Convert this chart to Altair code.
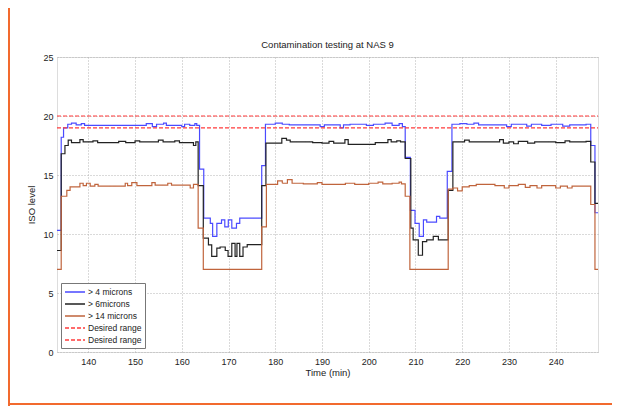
import altair as alt
import pandas as pd

# ---- data (change points of step curves) ----
t_start, t_end = 133.3, 249.05

blue_t = [133.3, 134.2, 134.7, 135.6, 136.4, 137.4, 138.5, 139.2, 152.4, 153.7, 154.6, 156.1, 156.7,
          160.0, 160.6, 161.7, 162.8, 163.2,
          163.8, 164.7, 166.1, 166.6, 167.5, 168.5, 169.2, 169.95, 170.7, 171.7, 172.4,
          177.1, 177.9, 180.0, 181.5, 183.0, 189.6, 190.5, 193.9, 194.6, 196.0, 199.5, 201.0,
          203.5, 205.0, 206.5, 207.2,
          207.8, 208.9, 209.9, 210.8, 211.7, 212.4, 214.5, 215.2,
          216.8, 217.8, 219.5, 221.0, 222.5, 223.5, 228.0, 229.5, 230.5, 233.8, 234.8, 237.0,
          239.0, 241.5, 243.0, 246.5,
          247.5, 248.4, 249.05]
blue_v = [10.3, 18.2, 19.0, 19.3, 19.4, 19.25, 19.35, 19.2, 19.35, 19.1, 19.3, 19.4, 19.2,
          19.1, 19.3, 19.2, 19.35, 19.2,
          15.5, 11.35, 10.9, 9.8, 10.9, 11.2, 10.6, 11.2, 10.5, 10.9, 11.35,
          15.8, 19.3, 19.4, 19.3, 19.25, 19.1, 19.25, 19.0, 19.25, 19.3, 19.2, 19.3,
          19.4, 19.2, 19.35, 19.1,
          16.5, 12.0, 10.9, 9.8, 11.2, 11.0, 11.5, 11.35,
          15.3, 19.3, 19.35, 19.3, 19.4, 19.25, 19.25, 19.1, 19.3, 19.15, 19.3, 19.2,
          19.3, 19.15, 19.25, 19.3,
          17.5, 11.8, 11.8]

black_t = [133.3, 134.2, 135.0, 135.7, 136.4, 138.2, 138.9, 141.0, 142.0, 146.5, 148.0, 150.0,
           151.0, 155.0, 156.0, 158.5, 159.5, 162.5, 163.0,
           163.5, 164.6, 165.7, 166.4, 167.5, 168.2, 169.3, 169.9, 170.7, 171.4, 171.8, 172.4,
           173.1, 174.0,
           177.1, 178.0, 181.4, 182.4, 183.2, 188.0, 190.0, 191.5, 192.5, 194.9, 195.6, 201.4,
           204.1, 204.8, 206.0, 206.8,
           207.8, 209.0, 209.5, 210.6, 211.5, 212.4, 213.8, 214.9,
           217.0, 218.0, 220.5, 221.5, 228.0, 228.8, 230.0, 231.0, 232.0, 234.0, 235.5, 240.0,
           242.0, 243.0, 246.5,
           247.5, 248.4, 249.05]
black_v = [8.6, 16.8, 17.5, 17.95, 17.75, 18.0, 17.8, 17.9, 17.75, 17.85, 17.75, 17.9,
           17.8, 17.95, 17.8, 17.9, 17.75, 17.5, 17.8,
           14.1, 9.65, 9.07, 8.1, 8.8, 8.9, 8.6, 8.1, 9.2, 8.1, 9.2, 8.1,
           8.9, 9.1,
           14.1, 17.7, 18.1, 17.95, 17.8, 17.75, 17.7, 17.85, 17.7, 18.0, 17.6, 17.75,
           18.0, 17.8, 17.9, 17.8,
           16.4, 10.5, 9.5, 8.2, 9.35, 9.5, 9.8, 9.5,
           13.7, 17.8, 17.95, 17.8, 18.0, 17.7, 17.8, 17.65, 17.85, 17.7, 17.8, 17.75,
           17.9, 17.8, 17.85,
           16.1, 12.6, 12.6]

brown_t = [133.3, 134.2, 135.4, 136.1, 138.2, 138.9, 139.6, 140.4, 141.4, 142.1, 147.9, 148.4,
           149.3, 150.4, 153.6, 154.3, 157.0, 157.8, 161.8, 162.5,
           163.5, 164.6,
           177.1, 178.1, 180.5, 181.5, 182.6, 183.6, 186.0, 189.0, 190.0, 195.0, 197.0, 200.0,
           202.0, 203.0, 205.0, 206.5, 207.0,
           207.8, 208.8,
           217.0, 218.0, 219.0, 220.0, 221.5, 223.0, 227.0, 229.0, 230.0, 232.0, 233.5, 234.5,
           236.0, 237.0, 240.0, 241.0, 242.5, 243.5,
           247.5, 248.4, 249.05]
brown_v = [7.0, 13.2, 13.7, 14.0, 14.3, 14.1, 14.3, 14.05, 14.2, 14.05, 14.3, 14.1,
           14.35, 14.1, 14.35, 14.15, 14.3, 14.15, 13.9, 14.2,
           10.5, 7.0,
           10.6, 14.2, 14.5, 14.3, 14.6, 14.3, 14.25, 14.35, 14.2, 14.3, 14.2, 14.3,
           14.4, 14.25, 14.3, 14.4, 14.25,
           13.2, 7.0,
           13.8, 13.9, 13.65, 14.0, 14.1, 14.2, 14.1, 13.9, 14.1, 14.2, 13.95, 14.1,
           13.9, 14.1, 13.9, 14.05, 13.9, 14.05,
           12.5, 7.0, 7.0]

desired_upper = 20
desired_lower = 19

names = ["> 4 microns", "> 6microns", "> 14 microns", "Desired range", "Desired range 2"]
colors = ["#4a4aff", "#222222", "#c0643c", "#ff3b3b", "#ff3b3b"]
dashes = [[1, 0], [1, 0], [1, 0], [4, 2], [4, 2]]

rows = []
for name, ts, vs in [(names[0], blue_t, blue_v), (names[1], black_t, black_v), (names[2], brown_t, brown_v)]:
    for t, v in zip(ts, vs):
        rows.append({"series": name, "t": t, "v": v})
for name, lvl in [(names[3], desired_upper), (names[4], desired_lower)]:
    for t in (t_start, t_end):
        rows.append({"series": name, "t": t, "v": lvl})
df = pd.DataFrame(rows)

FONT = "Liberation Sans"
TXT = "#222222"

x = alt.X("t:Q", scale=alt.Scale(domain=[t_start, t_end], nice=False, zero=False),
          axis=alt.Axis(values=list(range(140, 241, 10)), title="Time (min)", grid=True,
                        gridDash=[1, 2], gridColor="#b5b5b5", ticks=False, domain=False,
                        labelFontSize=9, titleFontSize=9.5, labelPadding=5, titlePadding=1,
                        labelColor=TXT, titleColor=TXT, titleFontWeight="normal",
                        labelFont=FONT, titleFont=FONT))
y = alt.Y("v:Q", scale=alt.Scale(domain=[0, 25], nice=False),
          axis=alt.Axis(values=[0, 5, 10, 15, 20, 25], title="ISO level", grid=True,
                        gridDash=[1, 2], gridColor="#b5b5b5", ticks=False, domain=False,
                        labelFontSize=9, titleFontSize=9.5, labelPadding=4, titlePadding=6,
                        labelColor=TXT, titleColor=TXT, titleFontWeight="normal",
                        labelFont=FONT, titleFont=FONT))

lines = alt.Chart(df).mark_line(interpolate="step-after", strokeWidth=1.2, clip=True).encode(
    x=x, y=y,
    color=alt.Color("series:N", scale=alt.Scale(domain=names, range=colors),
                    legend=alt.Legend(title=None, orient="bottom-left", offset=4,
                                      labelExpr="datum.label == 'Desired range 2' ? 'Desired range' : datum.label",
                                      symbolType="M-1,0H3", symbolSize=100, symbolStrokeWidth=1.3,
                                      labelFontSize=8.5, labelFont=FONT, labelColor=TXT,
                                      rowPadding=1, labelOffset=12, padding=3,
                                      strokeColor="#777777", fillColor="white", cornerRadius=0)),
    strokeDash=alt.StrokeDash("series:N", scale=alt.Scale(domain=names, range=dashes)),
    detail="series:N",
)

frame_df = pd.DataFrame({"k": [0]})
frame_left = alt.Chart(frame_df).mark_rule(color="#f26a2e", strokeWidth=2).encode(
    x=alt.value(-48), y=alt.value(-49), y2=alt.value(349))
frame_bottom = alt.Chart(frame_df).mark_rule(color="#f26a2e", strokeWidth=2).encode(
    x=alt.value(-49), x2=alt.value(560), y=alt.value(347))

chart = alt.layer(lines, frame_left, frame_bottom).properties(
    width=541, height=295,
    title=alt.Title("Contamination testing at NAS 9", fontSize=9.5, fontWeight="normal",
                    font=FONT, color=TXT, offset=-42, anchor="middle", frame="group"),
    autosize=alt.AutoSizeParams(type="none"),
    padding={"left": 49, "top": 49, "right": 14, "bottom": 54},
).configure_view(stroke="#555555", strokeWidth=1).configure(background="white")

chart.save("out.html", embed_options={"renderer": "svg", "actions": False})
